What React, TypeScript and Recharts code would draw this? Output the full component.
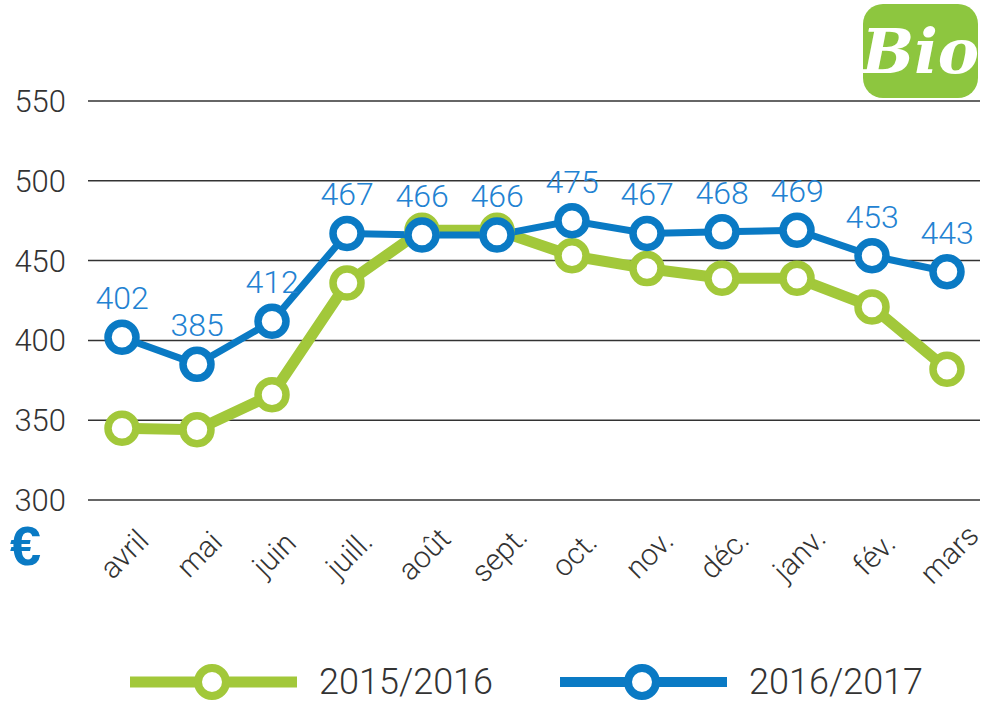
import { LineChart, Line, XAxis, YAxis, CartesianGrid, LabelList } from "recharts";

const months = ["avril", "mai", "juin", "juill.", "août", "sept.", "oct.", "nov.", "déc.", "janv.", "fév.", "mars"];
const prev = [345, 344, 366, 436, 469, 469, 453, 445, 439, 439, 421, 382];
const curr = [402, 385, 412, 467, 466, 466, 475, 467, 468, 469, 453, 443];
const seriesNames = ["2015/2016", "2016/2017"];
const yTicks = [300, 350, 400, 450, 500, 550];

const GREEN = "#a2c83a";
const BLUE = "#0a7ac4";
const LABEL_BLUE = "#2282d2";
const FONT = "Roboto, 'Liberation Sans', sans-serif";

const data = months.map((m, i) => ({ month: m, prev: prev[i], curr: curr[i] }));

function MonthTick({ x, y, payload }: any) {
  return (
    <text
      x={0}
      y={0}
      transform={`translate(${x + 2},${y + 46}) rotate(-45)`}
      textAnchor="middle"
      dominantBaseline="central"
      fontSize={30}
      fontWeight={300}
      fontFamily={FONT}
      fill="#333"
    >
      {payload.value}
    </text>
  );
}

function ValueLabel({ x, y, value }: any) {
  return (
    <text
      x={x}
      y={y - 39}
      textAnchor="middle"
      dominantBaseline="central"
      fontSize={32}
      fontWeight={300}
      fontFamily={FONT}
      fill={LABEL_BLUE}
    >
      {value}
    </text>
  );
}

function LegendItem({ x, color, name, width }: { x: number; color: string; name: string; width: number }) {
  return (
    <g>
      <line x1={x} x2={x + 167} y1={42} y2={42} stroke={color} strokeWidth={width} />
      <circle cx={x + 82} cy={42} r={14} fill="#fff" stroke={color} strokeWidth={8} />
      <text x={x + 189} y={54} fontSize={36} fontWeight={300} fontFamily={FONT} fill="#333">
        {name}
      </text>
    </g>
  );
}

export default function App() {
  return (
    <div style={{ position: "absolute", left: 0, top: 0, width: 982, height: 701, background: "#fff", fontFamily: FONT }}>
      <LineChart width={982} height={701} data={data} margin={{ top: 101, right: 2, bottom: 101, left: 0 }}>
        <CartesianGrid vertical={false} stroke="#333" strokeWidth={1.5} />
        <XAxis
          dataKey="month"
          scale="point"
          padding={{ left: 34, right: 33 }}
          axisLine={false}
          tickLine={false}
          interval={0}
          height={100}
          tick={<MonthTick />}
        />
        <YAxis
          domain={[300, 550]}
          ticks={yTicks}
          width={88}
          axisLine={false}
          tickLine={false}
          tickMargin={16}
          tick={{ fontSize: 31, fill: "#333", fontWeight: 300, fontFamily: FONT }}
        />
        <Line
          dataKey="prev"
          name={seriesNames[0]}
          stroke={GREEN}
          strokeWidth={11}
          dot={{ r: 14, strokeWidth: 7.5, fill: "#fff", stroke: GREEN }}
          isAnimationActive={false}
        />
        <Line
          dataKey="curr"
          name={seriesNames[1]}
          stroke={BLUE}
          strokeWidth={7}
          dot={{ r: 14, strokeWidth: 7.5, fill: "#fff", stroke: BLUE }}
          isAnimationActive={false}
        >
          <LabelList dataKey="curr" content={<ValueLabel />} />
        </Line>
      </LineChart>

      <div
        style={{
          position: "absolute",
          left: 10,
          top: 518,
          fontSize: 56,
          fontWeight: 700,
          color: BLUE,
          fontFamily: "'Liberation Sans', Arial, sans-serif",
          lineHeight: "56px",
        }}
      >
        €
      </div>

      <div
        style={{
          position: "absolute",
          left: 863,
          top: 4,
          width: 115,
          height: 94,
          borderRadius: 20,
          background: "#8dc63f",
          color: "#fff",
          display: "flex",
          alignItems: "center",
          justifyContent: "center",
          fontFamily: "'DejaVu Serif', serif",
          fontStyle: "italic",
          fontWeight: 700,
          fontSize: 62,
        }}
      >
        Bio
      </div>

      <svg style={{ position: "absolute", left: 0, top: 640 }} width={982} height={61}>
        <LegendItem x={130} color={GREEN} name={seriesNames[0]} width={11} />
        <LegendItem x={560} color={BLUE} name={seriesNames[1]} width={10} />
      </svg>
    </div>
  );
}
